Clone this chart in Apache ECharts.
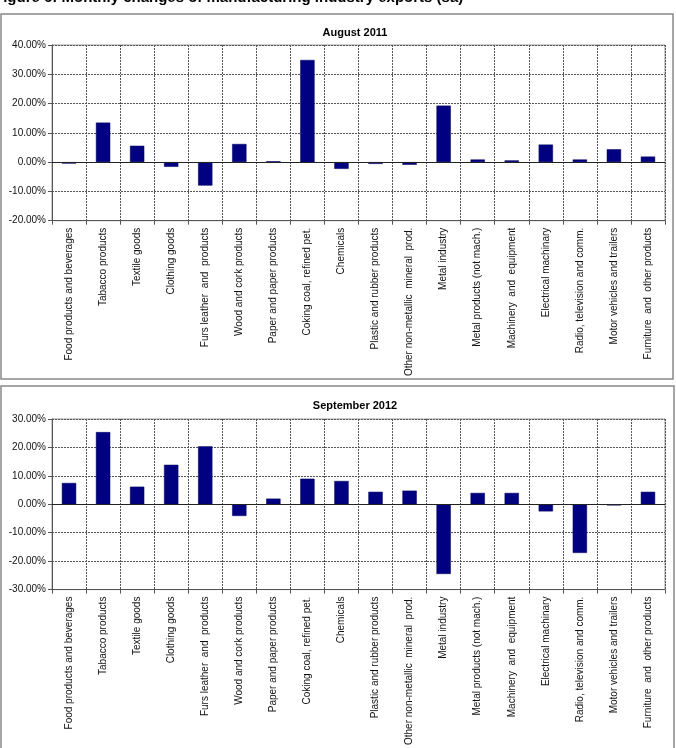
<!DOCTYPE html>
<html>
<head>
<meta charset="utf-8">
<script src="https://cdn.jsdelivr.net/npm/echarts@6/dist/echarts.min.js"></script>
<style>
html,body{margin:0;padding:0;background:#fff;}
#chart{width:676px;height:748px;}
</style>
</head>
<body>
<div id="chart"></div>
<script>
var categories = [
  "Food products and beverages",
  "Tabacco products",
  "Textile goods",
  "Clothing goods",
  "Furs leather  and  products",
  "Wood and cork products",
  "Paper and paper products",
  "Coking coal, refined pet.",
  "Chemicals",
  "Plastic and rubber products",
  "Other non-metallic  mineral  prod.",
  "Metal industry",
  "Metal products (not mach.)",
  "Machinery  and  equipment",
  "Electrical machinary",
  "Radio, television and comm.",
  "Motor vehicles and trailers",
  "Furniture  and  other products"
];
var aug2011 = [-0.5, 13.5, 5.6, -1.6, -8.0, 6.2, 0.3, 34.9, -2.3, -0.6, -0.9, 19.3, 0.9, 0.6, 6.0, 0.9, 4.4, 1.9];
var sep2012 = [7.5, 25.4, 6.2, 13.9, 20.4, -4.1, 2.0, 9.0, 8.2, 4.4, 4.8, -24.5, 4.0, 4.0, -2.5, -17.1, -0.4, 4.4];
var figTitle = "Figure 6: Monthly changes of manufacturing industry exports (sa)";
var panelTitles = ["August 2011", "September 2012"];

var FONT = "Liberation Sans, Arial, sans-serif";
var chart = echarts.init(document.getElementById('chart'), null, {renderer: 'canvas'});

function xAxisCfg(gi) {
  return {
    type: 'category', gridIndex: gi, data: categories,
    position: 'bottom',
    axisLine: {onZero: false, lineStyle: {color: '#555', width: 1}},
    axisTick: {show: true, length: 4, lineStyle: {color: '#555'}},
    axisLabel: {rotate: 90, interval: 0, fontSize: 10, color: '#111', fontFamily: FONT, margin: 7},
    splitLine: {show: true, interval: 0, lineStyle: {color: '#555', type: [2, 1], width: 1}}
  };
}
function yAxisCfg(gi, min, max) {
  return {
    type: 'value', gridIndex: gi, min: min, max: max, interval: 10,
    axisLine: {show: true, lineStyle: {color: '#555', width: 1}},
    axisTick: {show: true, length: 4, lineStyle: {color: '#555'}},
    axisLabel: {fontSize: 10, color: '#111', fontFamily: FONT, margin: 6,
      formatter: function (v) { return v.toFixed(2) + '%'; }},
    splitLine: {show: true, lineStyle: {color: '#555', type: [2, 1], width: 1}}
  };
}
function barSeries(gi, data) {
  return {
    type: 'bar', xAxisIndex: gi, yAxisIndex: gi, data: data,
    barWidth: '42%',
    itemStyle: {color: '#000080', borderColor: '#00005a', borderWidth: 0.5},
    silent: true,
    markLine: {
      silent: true, symbol: 'none', label: {show: false},
      lineStyle: {color: '#222', type: 'solid', width: 1},
      data: [{yAxis: 0}]
    }
  };
}

chart.setOption({
  animation: false,
  backgroundColor: '#fff',
  grid: [
    {left: 52, right: 11, top: 45, height: 175.7, show: true, borderColor: '#999', borderWidth: 1},
    {left: 52, right: 11, top: 419, height: 174, show: true, borderColor: '#999', borderWidth: 1}
  ],
  xAxis: [xAxisCfg(0), xAxisCfg(1)],
  yAxis: [yAxisCfg(0, -20, 40), yAxisCfg(1, -30, 30)],
  series: [barSeries(0, aug2011), barSeries(1, sep2012)],
  graphic: [
    {type: 'text', left: -6, top: -10, style: {text: figTitle, font: 'bold 15px ' + FONT, fill: '#000'}},
    {type: 'rect', shape: {x: 1, y: 14, width: 672, height: 365}, style: {fill: 'none', stroke: '#888', lineWidth: 1.5}, z: -1},
    {type: 'rect', shape: {x: 1, y: 386, width: 673, height: 380}, style: {fill: 'none', stroke: '#888', lineWidth: 1.5}, z: -1},
    {type: 'text', x: 355, y: 33, style: {text: panelTitles[0], font: 'bold 11px ' + FONT, fill: '#000', textAlign: 'center', textVerticalAlign: 'middle'}},
    {type: 'text', x: 355, y: 406, style: {text: panelTitles[1], font: 'bold 11px ' + FONT, fill: '#000', textAlign: 'center', textVerticalAlign: 'middle'}}
  ]
});
</script>
</body>
</html>
